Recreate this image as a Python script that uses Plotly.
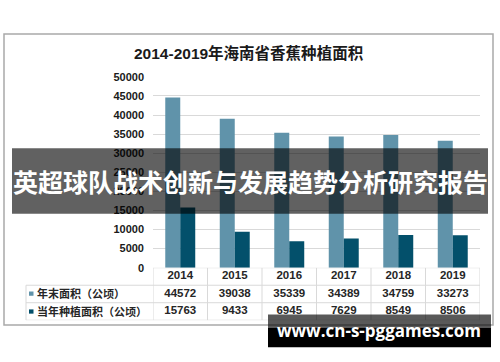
import plotly.graph_objects as go

years = ["2014", "2015", "2016", "2017", "2018", "2019"]
series_names = ["年末面积（公顷）", "当年种植面积（公顷）"]
year_end_area = [44572, 39038, 35339, 34389, 34759, 33273]
planted_area = [15763, 9433, 6945, 7629, 8549, 8506]
y_ticks = [0, 5000, 10000, 15000, 20000, 25000, 30000, 35000, 40000, 45000, 50000]
title_text = "2014-2019年海南省香蕉种植面积"
overlay_text = "英超球队战术创新与发展趋势分析研究报告"
watermark_text = "www.cn-s-pggames.com"

W, H = 500, 362
def px(x):
    return x / W
def py(y):
    return 1 - y / H

c1 = "#6093aa"
c2 = "#03506b"
grid = "#d9d9d9"
txt = "#262626"
fam = "Liberation Sans, Arial, Noto Sans CJK SC, sans-serif"

idx = list(range(len(years)))

fig = go.Figure()
fig.add_trace(go.Bar(x=idx, y=year_end_area, name=series_names[0], marker_color=c1,
                     marker_line_width=0, showlegend=False))
fig.add_trace(go.Bar(x=idx, y=planted_area, name=series_names[1], marker_color=c2,
                     marker_line_width=0, showlegend=False))

tf = dict(family=fam, size=11.5, color=txt, weight="bold")
fig.add_trace(go.Scatter(x=idx, y=[0.5] * len(years), mode="text", text=years, xaxis="x", yaxis="y2",
                         textfont=tf, cliponaxis=False, showlegend=False, hoverinfo="skip"))
fig.add_trace(go.Scatter(x=idx, y=[1.5] * len(years), mode="text",
                         text=[str(v) for v in year_end_area], xaxis="x", yaxis="y2",
                         textfont=tf, cliponaxis=False, showlegend=False, hoverinfo="skip"))
fig.add_trace(go.Scatter(x=idx, y=[2.5] * len(years), mode="text",
                         text=[str(v) for v in planted_area], xaxis="x", yaxis="y2",
                         textfont=tf, cliponaxis=False, showlegend=False, hoverinfo="skip"))

plot_top, plot_bot = 73.3, 270.7
tab_top, tab_bot = 270.7, 325
x_left, x_right = 153, 480

shapes = []
shapes.append(dict(type="rect", xref="paper", yref="paper", x0=px(4), x1=px(493),
                   y0=py(330), y1=py(29), line=dict(color="#a9a9a9", width=1.5), layer="below"))
lc = dict(color=grid, width=1)
shapes.append(dict(type="line", xref="paper", yref="y2", x0=px(x_left), x1=px(x_right), y0=0, y1=0, line=lc, layer="below"))
for r in [1, 2, 3]:
    shapes.append(dict(type="line", xref="paper", yref="y2", x0=px(26), x1=px(x_right), y0=r, y1=r, line=lc, layer="below"))
shapes.append(dict(type="line", xref="paper", yref="y2", x0=px(26), x1=px(26), y0=1, y1=3, line=lc, layer="below"))
for b in [i - 0.5 for i in range(len(years) + 1)]:
    shapes.append(dict(type="line", xref="x", yref="y2", x0=b, x1=b, y0=0, y1=3, line=lc, layer="below"))
for k, col in enumerate([c1, c2]):
    cy = [297.5, 316][k]
    shapes.append(dict(type="rect", xref="paper", yref="paper", x0=px(29), x1=px(33.5),
                       y0=py(cy + 2.2), y1=py(cy - 2.2), fillcolor=col, line=dict(width=0), layer="below"))
shapes.append(dict(type="rect", xref="paper", yref="paper", x0=px(12), x1=px(488),
                   y0=py(215), y1=py(147), fillcolor="rgba(0,0,0,0.62)", line=dict(width=0), layer="above"))
shapes.append(dict(type="rect", xref="paper", yref="paper", x0=px(268), x1=px(491),
                   y0=py(333), y1=py(319), fillcolor="rgba(0,0,0,0.65)", line=dict(width=0), layer="above"))
shapes.append(dict(type="rect", xref="paper", yref="paper", x0=px(268), x1=px(491),
                   y0=py(353), y1=py(333), fillcolor="#000000", line=dict(width=0), layer="above"))

annotations = [
    dict(text=title_text, xref="paper", yref="paper", x=px(249), y=py(49), showarrow=False,
         xanchor="center", yanchor="middle", font=dict(family=fam, size=15.5, color="#1a1a1a", weight="bold")),
    dict(text=series_names[0], xref="paper", yref="paper", x=px(35), y=py(297.5), showarrow=False,
         xanchor="left", yanchor="middle", font=dict(family=fam, size=11, color=txt, weight="bold")),
    dict(text=series_names[1], xref="paper", yref="paper", x=px(35), y=py(316), showarrow=False,
         xanchor="left", yanchor="middle", font=dict(family=fam, size=11, color=txt, weight="bold")),
    dict(text=overlay_text, xref="paper", yref="paper", x=px(250), y=py(181), showarrow=False,
         xanchor="center", yanchor="middle",
         font=dict(family="Noto Sans CJK SC, sans-serif", size=25, color="white", weight="bold")),
    dict(text=watermark_text, xref="paper", yref="paper", x=px(379), y=py(336), showarrow=False,
         xanchor="center", yanchor="middle",
         font=dict(family="Open Sans, sans-serif", size=17, color="white", weight="bold")),
]

fig.update_layout(
    width=W, height=H, margin=dict(l=0, r=0, t=0, b=0),
    paper_bgcolor="white", plot_bgcolor="white",
    barmode="group", bargap=0.45, bargroupgap=0,
    xaxis=dict(domain=[px(x_left), px(x_right)], range=[-0.5, len(years) - 0.5],
               showticklabels=False, showgrid=False, zeroline=False, showline=False, fixedrange=True),
    yaxis=dict(domain=[py(plot_bot), py(plot_top)], range=[0, 50000], tickvals=y_ticks,
               tickformat="d",
               showgrid=True, gridcolor=grid, gridwidth=1, zeroline=False, showline=False,
               ticks="", ticklabelstandoff=8,
               tickfont=dict(family=fam, size=11, color="#1a1a1a", weight="bold")),
    yaxis2=dict(domain=[py(tab_bot), py(tab_top)], range=[3, 0], anchor="x",
                showticklabels=False, showgrid=False, zeroline=False, showline=False),
    shapes=shapes, annotations=annotations,
)

fig.write_html("out.html", config={"displayModeBar": False},
               post_script="document.body.style.margin='0';document.body.style.overflow='hidden';")
